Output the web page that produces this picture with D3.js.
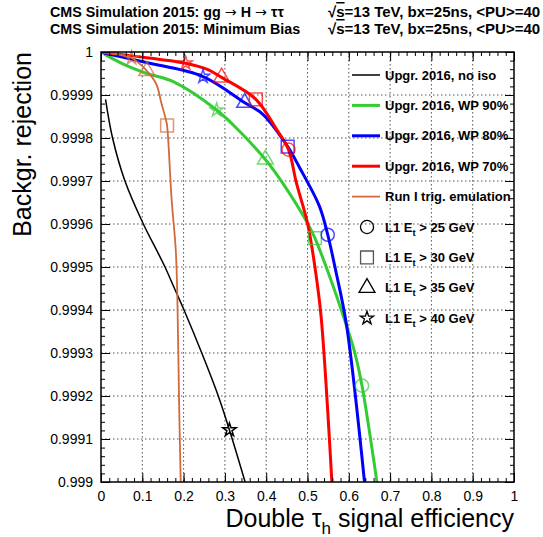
<!DOCTYPE html>
<html>
<head>
<meta charset="utf-8">
<script src="https://cdn.jsdelivr.net/npm/d3@7"></script>
<style>
body { margin: 0; background: #fff; }
text { font-family: "Liberation Sans", Arial, Helvetica, sans-serif; }
</style>
</head>
<body>
<svg id="roc" width="543" height="537"></svg>
<script>
// curve points: signal efficiency / background rejection
var noIsoEff = [0.011, 0.028, 0.058, 0.1025, 0.138, 0.155, 0.178, 0.201, 0.244, 0.284, 0.311, 0.349];
var noIsoRej = [0.99989, 0.9998, 0.9997, 0.9996, 0.999533, 0.9995, 0.99945, 0.9994, 0.9993, 0.9992, 0.999121, 0.999];

var wp90Eff = [0.008, 0.058, 0.111, 0.175, 0.280, 0.336, 0.398, 0.440, 0.500, 0.518, 0.548, 0.593, 0.613, 0.632, 0.668];
var wp90Rej = [0.999995, 0.99997, 0.99995, 0.999931, 0.999865, 0.999815, 0.99975, 0.999695, 0.999602, 0.999567, 0.999493, 0.999368, 0.999306, 0.999224, 0.999];

var wp80Eff = [0.004, 0.107, 0.247, 0.348, 0.392, 0.452, 0.481, 0.529, 0.549, 0.568, 0.594, 0.638];
var wp80Rej = [0.999998, 0.999976, 0.999943, 0.999882, 0.999855, 0.99978, 0.999731, 0.999641, 0.999575, 0.999493, 0.999368, 0.999];

var wp70Eff = [0.0, 0.075, 0.205, 0.256, 0.292, 0.375, 0.425, 0.454, 0.473, 0.500, 0.519, 0.533, 0.559];
var wp70Rej = [1.0, 0.999991, 0.999974, 0.99996, 0.999941, 0.99989, 0.99982, 0.999773, 0.999696, 0.999602, 0.999493, 0.999384, 0.999];

var runIEff = [0.0, 0.074, 0.111, 0.134, 0.146, 0.157, 0.160, 0.171, 0.181, 0.185, 0.189, 0.193];
var runIRej = [1.0, 0.999986, 0.999956, 0.999925, 0.999882, 0.999843, 0.999829, 0.999657, 0.99954, 0.999423, 0.999189, 0.999];

// working points for L1 Et > 25, 30, 35, 40 GeV (null = off the plot)
var noIsoMarkEff = [null, null, null, 0.311];
var noIsoMarkRej = [null, null, null, 0.999121];
var wp90MarkEff = [0.632, 0.518, 0.398, 0.280];
var wp90MarkRej = [0.999224, 0.999567, 0.99975, 0.999865];
var wp80MarkEff = [0.549, 0.452, 0.348, 0.247];
var wp80MarkRej = [0.999575, 0.99978, 0.999882, 0.999943];
var wp70MarkEff = [0.454, 0.375, 0.292, 0.205];
var wp70MarkRej = [0.999773, 0.99989, 0.999941, 0.999974];
var runIMarkEff = [null, 0.160, 0.111, 0.074];
var runIMarkRej = [null, 0.999829, 0.999956, 0.999986];

var xTickLabels = ["0", "0.1", "0.2", "0.3", "0.4", "0.5", "0.6", "0.7", "0.8", "0.9", "1"];
var yTickLabels = ["0.999", "0.9991", "0.9992", "0.9993", "0.9994", "0.9995", "0.9996", "0.9997", "0.9998", "0.9999", "1"];
var thresholds = ["25", "30", "35", "40"];

var svg = d3.select("#roc");

// frame of the pad
var padL = 101, padR = 514, padT = 52, padB = 482;

var xScale = d3.scaleLinear().domain([0, 1]).range([padL, padR]);
var yScale = d3.scaleLinear().domain([0.999, 1]).range([padB, padT]);

var xTicks = xTickLabels.map(Number);
var yTicks = yTickLabels.map(Number);

//grid, dotted
var grid = svg.append("g").attr("stroke", "#555").attr("stroke-width", 1).attr("stroke-dasharray", "1.5,2.5");
xTicks.slice(1, -1).forEach(function (t) {
  grid.append("line")
    .attr("x1", xScale(t)).attr("x2", xScale(t))
    .attr("y1", padT).attr("y2", padB);
});
yTicks.slice(1, -1).forEach(function (t) {
  grid.append("line")
    .attr("x1", padL).attr("x2", padR)
    .attr("y1", yScale(t)).attr("y2", yScale(t));
});

// curves
svg.append("clipPath").attr("id", "pad")
  .append("rect")
  .attr("x", padL).attr("y", padT)
  .attr("width", padR - padL).attr("height", padB - padT);

var series = [
  { name: "Upgr. 2016, no iso", eff: noIsoEff, rej: noIsoRej, mEff: noIsoMarkEff, mRej: noIsoMarkRej, color: "#000000", lw: 1.5 },
  { name: "Upgr. 2016, WP 90%", eff: wp90Eff, rej: wp90Rej, mEff: wp90MarkEff, mRej: wp90MarkRej, color: "#33cc33", lw: 3 },
  { name: "Upgr. 2016, WP 80%", eff: wp80Eff, rej: wp80Rej, mEff: wp80MarkEff, mRej: wp80MarkRej, color: "#0000ff", lw: 3 },
  { name: "Upgr. 2016, WP 70%", eff: wp70Eff, rej: wp70Rej, mEff: wp70MarkEff, mRej: wp70MarkRej, color: "#ff0000", lw: 3 },
  { name: "Run I trig. emulation", eff: runIEff, rej: runIRej, mEff: runIMarkEff, mRej: runIMarkRej, color: "#d2693c", lw: 1.8 }
];

var shapes = [d3.symbolCircle, d3.symbolSquare, d3.symbolTriangle, d3.symbolStar];
var shapeSizes = [135, 165, 110, 55];

var line = d3.line()
  .x(function (d) { return xScale(d[0]); })
  .y(function (d) { return yScale(d[1]); })
  .curve(d3.curveCatmullRom.alpha(0.5));

var curves = svg.append("g").attr("clip-path", "url(#pad)");

series.forEach(function (s) {
  var pts = s.eff.map(function (e, i) { return [e, s.rej[i]]; });
  curves.append("path")
    .attr("d", line(pts))
    .attr("fill", "none")
    .attr("stroke", s.color)
    .attr("stroke-width", s.lw);
});

series.forEach(function (s) {
  s.mEff.forEach(function (e, i) {
    if (e === null) return;
    svg.append("path")
      .attr("d", d3.symbol().type(shapes[i]).size(shapeSizes[i])())
      .attr("transform", "translate(" + xScale(e) + "," + yScale(s.mRej[i]) + ")")
      .attr("fill", "none")
      .attr("stroke", s.color)
      .attr("stroke-opacity", s.color === "#000000" ? 1 : 0.7)
      .attr("stroke-width", 1.5);
  });
});

// axes, ticks pointing inward like ROOT
function styleAxis(g) {
  g.select(".domain").remove();
  g.selectAll("line").attr("stroke", "#000").attr("stroke-width", 1);
  g.selectAll("text").attr("font-size", 14).attr("fill", "#000")
    .attr("font-family", "Liberation Sans, Arial, sans-serif");
}

var xMinor = xScale.ticks(50);
var yMinor = yScale.ticks(50);

svg.append("g").attr("transform", "translate(0," + padB + ")")
  .call(d3.axisBottom(xScale).tickValues(xMinor).tickSize(-4).tickFormat(""))
  .call(styleAxis);
svg.append("g").attr("transform", "translate(0," + padB + ")")
  .call(d3.axisBottom(xScale).tickValues(xTicks).tickSize(-9).tickPadding(9)
    .tickFormat(function (d, i) { return xTickLabels[i]; }))
  .call(styleAxis);
svg.append("g").attr("transform", "translate(0," + padT + ")")
  .call(d3.axisTop(xScale).tickValues(xMinor).tickSize(-4).tickFormat(""))
  .call(styleAxis);
svg.append("g").attr("transform", "translate(0," + padT + ")")
  .call(d3.axisTop(xScale).tickValues(xTicks).tickSize(-9).tickFormat(""))
  .call(styleAxis);

svg.append("g").attr("transform", "translate(" + padL + ",0)")
  .call(d3.axisLeft(yScale).tickValues(yMinor).tickSize(-4).tickFormat(""))
  .call(styleAxis);
svg.append("g").attr("transform", "translate(" + padL + ",0)")
  .call(d3.axisLeft(yScale).tickValues(yTicks).tickSize(-9).tickPadding(8)
    .tickFormat(function (d, i) { return yTickLabels[i]; }))
  .call(styleAxis);
svg.append("g").attr("transform", "translate(" + padR + ",0)")
  .call(d3.axisRight(yScale).tickValues(yMinor).tickSize(-4).tickFormat(""))
  .call(styleAxis);
svg.append("g").attr("transform", "translate(" + padR + ",0)")
  .call(d3.axisRight(yScale).tickValues(yTicks).tickSize(-9).tickFormat(""))
  .call(styleAxis);

svg.append("rect")
  .attr("x", padL).attr("y", padT)
  .attr("width", padR - padL).attr("height", padB - padT)
  .attr("fill", "none").attr("stroke", "#000").attr("stroke-width", 1.5);

//axis titles
var xTitle = svg.append("text")
  .attr("x", padR).attr("y", 527)
  .attr("text-anchor", "end")
  .attr("font-size", 25);
xTitle.append("tspan").text("Double \u03c4");
xTitle.append("tspan").attr("font-size", 17).attr("dy", 7).text("h");
xTitle.append("tspan").attr("dy", -7).text(" signal efficiency");

svg.append("text")
  .attr("transform", "translate(31," + padT + ")rotate(-90)")
  .attr("text-anchor", "end")
  .attr("font-size", 25)
  .text("Backgr. rejection");

// header lines
var headers = [["CMS Simulation 2015: gg ", "\u2192", " H ", "\u2192", " \u03c4\u03c4"], ["CMS Simulation 2015: Minimum Bias"]];
headers.forEach(function (h, i) {
  var t1 = svg.append("text")
    .attr("x", 50).attr("y", 17 + i * 17)
    .attr("font-size", 14.3).attr("font-weight", "bold");
  h.forEach(function (part) {
    var sp = t1.append("tspan").text(part);
    if (part === "\u2192") sp.attr("font-family", "DejaVu Sans").attr("font-weight", "normal");
  });
  var t = svg.append("text")
    .attr("x", 328).attr("y", 17 + i * 17)
    .attr("font-size", 15).attr("font-weight", "bold");
  t.append("tspan").text("\u221a");
  t.append("tspan").style("text-decoration", "overline").text("s");
  t.append("tspan").text("=13 TeV, bx=25ns, <PU>=40");
});

// legend
var legendY = 75, legendStep = 30.4;
var legend = svg.append("g");
series.forEach(function (s, i) {
  var y = legendY + i * legendStep;
  legend.append("line")
    .attr("x1", 352).attr("x2", 380)
    .attr("y1", y).attr("y2", y)
    .attr("stroke", s.color).attr("stroke-width", s.lw);
  legend.append("text")
    .attr("x", 385).attr("y", y + 4.5)
    .attr("font-size", 13).attr("font-weight", "bold")
    .text(s.name);
});
thresholds.forEach(function (th, i) {
  var y = legendY + (series.length + i) * legendStep;
  legend.append("path")
    .attr("d", d3.symbol().type(shapes[i]).size(shapeSizes[i])())
    .attr("transform", "translate(367," + y + ")")
    .attr("fill", "none")
    .attr("stroke", i === 1 ? "#555" : "#000")
    .attr("stroke-width", 1.3);
  var t = legend.append("text")
    .attr("x", 385).attr("y", y + 4.5)
    .attr("font-size", 13).attr("font-weight", "bold");
  t.append("tspan").text("L1 E");
  t.append("tspan").attr("font-size", 9.5).attr("dy", 4).text("t");
  t.append("tspan").attr("dy", -4).text(" > " + th + " GeV");
});
</script>
</body>
</html>
